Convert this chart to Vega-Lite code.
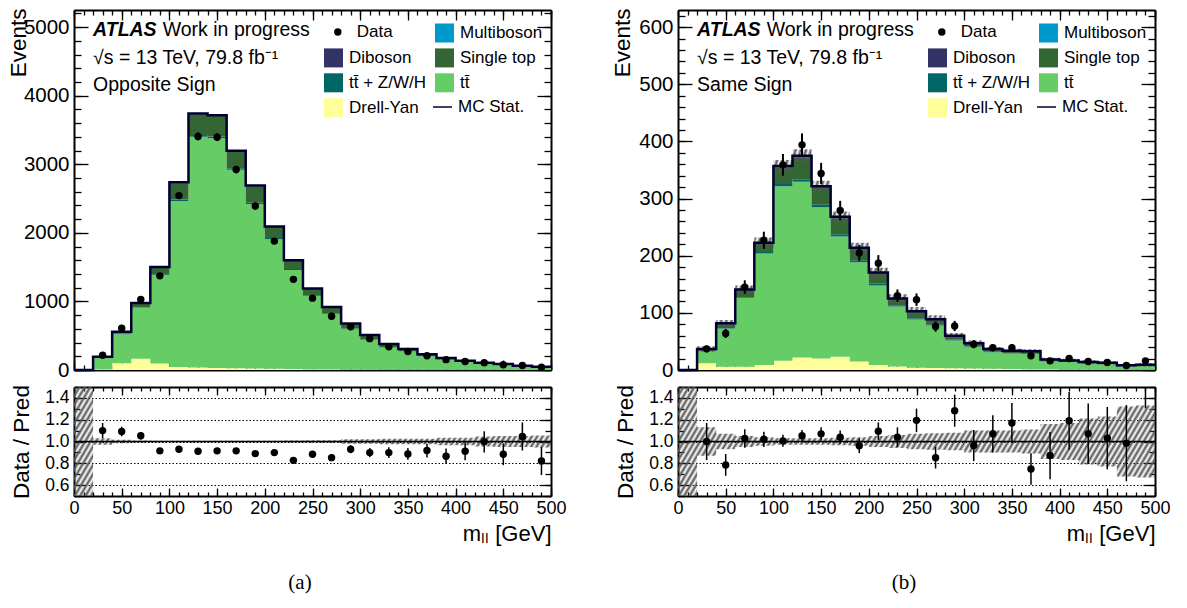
{
"$schema": "https://vega.github.io/schema/vega-lite/v6.json",
"background": "white",
"padding": {"left": 7, "top": 8, "right": 5, "bottom": 5},
"config": {
 "font": "Liberation Sans",
 "view": {"stroke": null},
 "axis": {"labelFont": "Liberation Sans", "titleFont": "Liberation Sans", "labelColor": "black", "titleColor": "black", "tickColor": "black", "domainColor": "black", "tickWidth": 1.3, "domainWidth": 2, "labelFlush": false, "labelOverlap": false, "grid": false, "titleFontWeight": "normal"},
 "legend": {"columnPadding": 8, "rowPadding": 4.9, "labelFont": "Liberation Sans", "labelFontSize": 17, "labelColor": "black", "labelOffset": 5, "symbolSize": 361, "symbolStrokeWidth": 1.5, "padding": 0, "labelLimit": 300},
 "title": {"font": "Liberation Serif", "fontSize": 21, "fontWeight": "normal", "color": "black"}
},
"datasets": {
 "os_e": [
  {"x":0,"s1_dy":0,"s2_tt":0,"s3_ttv":0,"s4_st":0,"s5_vv":0,"s6_vvv":0,"tot":0,"blo":0.5,"bhi":1.5},
  {"x":20,"s1_dy":10,"s2_tt":172,"s3_ttv":2,"s4_st":8,"s5_vv":3,"s6_vvv":0,"tot":195,"blo":0.97,"bhi":1.03},
  {"x":40,"s1_dy":98,"s2_tt":425,"s3_ttv":4,"s4_st":25,"s5_vv":5,"s6_vvv":0,"tot":557,"blo":0.985,"bhi":1.015},
  {"x":60,"s1_dy":165,"s2_tt":742,"s3_ttv":8,"s4_st":55,"s5_vv":8,"s6_vvv":0,"tot":978,"blo":0.99,"bhi":1.01},
  {"x":80,"s1_dy":95,"s2_tt":1290,"s3_ttv":12,"s4_st":95,"s5_vv":10,"s6_vvv":0,"tot":1502,"blo":0.994,"bhi":1.006},
  {"x":100,"s1_dy":45,"s2_tt":2420,"s3_ttv":20,"s4_st":240,"s5_vv":12,"s6_vvv":0,"tot":2737,"blo":0.994,"bhi":1.006},
  {"x":120,"s1_dy":35,"s2_tt":3368,"s3_ttv":25,"s4_st":300,"s5_vv":12,"s6_vvv":0,"tot":3740,"blo":0.994,"bhi":1.006},
  {"x":140,"s1_dy":30,"s2_tt":3349,"s3_ttv":25,"s4_st":300,"s5_vv":12,"s6_vvv":0,"tot":3716,"blo":0.994,"bhi":1.006},
  {"x":160,"s1_dy":25,"s2_tt":2896,"s3_ttv":22,"s4_st":245,"s5_vv":10,"s6_vvv":0,"tot":3198,"blo":0.994,"bhi":1.006},
  {"x":180,"s1_dy":22,"s2_tt":2398,"s3_ttv":20,"s4_st":240,"s5_vv":9,"s6_vvv":0,"tot":2689,"blo":0.994,"bhi":1.006},
  {"x":200,"s1_dy":18,"s2_tt":1889,"s3_ttv":18,"s4_st":160,"s5_vv":8,"s6_vvv":0,"tot":2093,"blo":0.992,"bhi":1.008},
  {"x":220,"s1_dy":15,"s2_tt":1442,"s3_ttv":15,"s4_st":120,"s5_vv":7,"s6_vvv":0,"tot":1599,"blo":0.99,"bhi":1.01},
  {"x":240,"s1_dy":12,"s2_tt":1069,"s3_ttv":12,"s4_st":88,"s5_vv":6,"s6_vvv":0,"tot":1187,"blo":0.988,"bhi":1.012},
  {"x":260,"s1_dy":10,"s2_tt":810,"s3_ttv":10,"s4_st":85,"s5_vv":5,"s6_vvv":0,"tot":920,"blo":0.988,"bhi":1.012},
  {"x":280,"s1_dy":8,"s2_tt":588,"s3_ttv":8,"s4_st":70,"s5_vv":4,"s6_vvv":0,"tot":678,"blo":0.98,"bhi":1.02},
  {"x":300,"s1_dy":6,"s2_tt":433,"s3_ttv":7,"s4_st":60,"s5_vv":3,"s6_vvv":0,"tot":509,"blo":0.98,"bhi":1.02},
  {"x":320,"s1_dy":5,"s2_tt":324,"s3_ttv":6,"s4_st":40,"s5_vv":3,"s6_vvv":0,"tot":378,"blo":0.975,"bhi":1.025},
  {"x":340,"s1_dy":4,"s2_tt":264,"s3_ttv":5,"s4_st":30,"s5_vv":2,"s6_vvv":0,"tot":305,"blo":0.975,"bhi":1.025},
  {"x":360,"s1_dy":3,"s2_tt":197,"s3_ttv":4,"s4_st":22,"s5_vv":2,"s6_vvv":0,"tot":228,"blo":0.975,"bhi":1.025},
  {"x":380,"s1_dy":3,"s2_tt":148,"s3_ttv":3,"s4_st":18,"s5_vv":2,"s6_vvv":0,"tot":174,"blo":0.965,"bhi":1.035},
  {"x":400,"s1_dy":2,"s2_tt":116,"s3_ttv":3,"s4_st":14,"s5_vv":1,"s6_vvv":0,"tot":136,"blo":0.965,"bhi":1.035},
  {"x":420,"s1_dy":2,"s2_tt":89,"s3_ttv":2,"s4_st":12,"s5_vv":1,"s6_vvv":0,"tot":106,"blo":0.955,"bhi":1.045},
  {"x":440,"s1_dy":2,"s2_tt":72,"s3_ttv":2,"s4_st":10,"s5_vv":1,"s6_vvv":0,"tot":87,"blo":0.95,"bhi":1.05},
  {"x":460,"s1_dy":1,"s2_tt":52,"s3_ttv":2,"s4_st":7,"s5_vv":1,"s6_vvv":0,"tot":63,"blo":0.95,"bhi":1.05},
  {"x":480,"s1_dy":1,"s2_tt":39,"s3_ttv":1,"s4_st":6,"s5_vv":1,"s6_vvv":0,"tot":48,"blo":0.945,"bhi":1.055},
  {"x":500,"s1_dy":1,"s2_tt":39,"s3_ttv":1,"s4_st":6,"s5_vv":1,"s6_vvv":0,"tot":48,"blo":0.945,"bhi":1.055}
 ],
 "os_b": [
  {"c":30,"d":215,"dlo":200,"dhi":230,"r":1.1,"rlo":1.03,"rhi":1.17},
  {"c":50,"d":608,"dlo":583,"dhi":633,"r":1.092,"rlo":1.048,"rhi":1.136},
  {"c":70,"d":1029,"dlo":997,"dhi":1061,"r":1.052,"rlo":1.019,"rhi":1.085},
  {"c":90,"d":1373,"dlo":1336,"dhi":1410,"r":0.914,"rlo":0.889,"rhi":0.939},
  {"c":110,"d":2543,"dlo":2493,"dhi":2593,"r":0.929,"rlo":0.911,"rhi":0.947},
  {"c":130,"d":3407,"dlo":3349,"dhi":3465,"r":0.911,"rlo":0.895,"rhi":0.927},
  {"c":150,"d":3396,"dlo":3338,"dhi":3454,"r":0.914,"rlo":0.898,"rhi":0.93},
  {"c":170,"d":2923,"dlo":2869,"dhi":2977,"r":0.914,"rlo":0.897,"rhi":0.931},
  {"c":190,"d":2391,"dlo":2342,"dhi":2440,"r":0.889,"rlo":0.871,"rhi":0.907},
  {"c":210,"d":1880,"dlo":1837,"dhi":1923,"r":0.898,"rlo":0.877,"rhi":0.919},
  {"c":230,"d":1322,"dlo":1286,"dhi":1358,"r":0.827,"rlo":0.804,"rhi":0.85},
  {"c":250,"d":1048,"dlo":1016,"dhi":1080,"r":0.883,"rlo":0.856,"rhi":0.91},
  {"c":270,"d":784,"dlo":756,"dhi":812,"r":0.852,"rlo":0.822,"rhi":0.882},
  {"c":290,"d":630,"dlo":605,"dhi":655,"r":0.929,"rlo":0.892,"rhi":0.966},
  {"c":310,"d":457,"dlo":436,"dhi":478,"r":0.898,"rlo":0.856,"rhi":0.94},
  {"c":330,"d":339,"dlo":321,"dhi":357,"r":0.898,"rlo":0.849,"rhi":0.947},
  {"c":350,"d":270,"dlo":254,"dhi":286,"r":0.886,"rlo":0.832,"rhi":0.94},
  {"c":370,"d":209,"dlo":195,"dhi":223,"r":0.917,"rlo":0.854,"rhi":0.98},
  {"c":390,"d":151,"dlo":139,"dhi":163,"r":0.865,"rlo":0.794,"rhi":0.936},
  {"c":410,"d":124,"dlo":113,"dhi":135,"r":0.911,"rlo":0.829,"rhi":0.993},
  {"c":430,"d":106,"dlo":96,"dhi":116,"r":0.997,"rlo":0.9,"rhi":1.094},
  {"c":450,"d":77,"dlo":68,"dhi":86,"r":0.883,"rlo":0.783,"rhi":0.983},
  {"c":470,"d":66,"dlo":58,"dhi":74,"r":1.046,"rlo":0.917,"rhi":1.175},
  {"c":490,"d":39,"dlo":33,"dhi":45,"r":0.822,"rlo":0.692,"rhi":0.952}
 ],
 "ss_e": [
  {"x":0,"s1_dy":0,"s2_tt":0,"s3_ttv":0,"s4_st":0,"s5_vv":0,"s6_vvv":0,"tot":0,"blo":0.5,"bhi":1.5,"mlo":null,"mhi":null},
  {"x":20,"s1_dy":11.7,"s2_tt":21.4,"s3_ttv":0.5,"s4_st":2,"s5_vv":1,"s6_vvv":0,"tot":36.6,"blo":0.87,"bhi":1.13,"mlo":31.8,"mhi":41.4},
  {"x":40,"s1_dy":5.8,"s2_tt":66.2,"s3_ttv":1,"s4_st":7.5,"s5_vv":1.5,"s6_vvv":0,"tot":82,"blo":0.93,"bhi":1.07,"mlo":76.3,"mhi":87.7},
  {"x":60,"s1_dy":5.8,"s2_tt":120.6,"s3_ttv":1.5,"s4_st":11.6,"s5_vv":1.5,"s6_vvv":0,"tot":141,"blo":0.95,"bhi":1.05,"mlo":134,"mhi":148},
  {"x":80,"s1_dy":8.7,"s2_tt":195.1,"s3_ttv":2.5,"s4_st":14.5,"s5_vv":2,"s6_vvv":0,"tot":222.8,"blo":0.96,"bhi":1.04,"mlo":213.9,"mhi":231.7},
  {"x":100,"s1_dy":16,"s2_tt":305.5,"s3_ttv":4,"s4_st":29,"s5_vv":2.5,"s6_vvv":0,"tot":357,"blo":0.97,"bhi":1.03,"mlo":346.3,"mhi":367.7},
  {"x":120,"s1_dy":22,"s2_tt":307.5,"s3_ttv":4.5,"s4_st":38,"s5_vv":3,"s6_vvv":0,"tot":375,"blo":0.97,"bhi":1.03,"mlo":363.8,"mhi":386.3},
  {"x":140,"s1_dy":20,"s2_tt":264.6,"s3_ttv":4.5,"s4_st":30,"s5_vv":2.5,"s6_vvv":0,"tot":321.6,"blo":0.97,"bhi":1.03,"mlo":312,"mhi":331.2},
  {"x":160,"s1_dy":23,"s2_tt":210.5,"s3_ttv":4,"s4_st":28,"s5_vv":2.5,"s6_vvv":0,"tot":268,"blo":0.965,"bhi":1.035,"mlo":258.6,"mhi":277.4},
  {"x":180,"s1_dy":15,"s2_tt":173.5,"s3_ttv":3.5,"s4_st":20,"s5_vv":2,"s6_vvv":0,"tot":214,"blo":0.96,"bhi":1.04,"mlo":205.4,"mhi":222.6},
  {"x":200,"s1_dy":8.7,"s2_tt":139.3,"s3_ttv":3,"s4_st":17.5,"s5_vv":2,"s6_vvv":0,"tot":170.5,"blo":0.95,"bhi":1.05,"mlo":162,"mhi":179},
  {"x":220,"s1_dy":6,"s2_tt":105,"s3_ttv":2.5,"s4_st":10,"s5_vv":1.5,"s6_vvv":0,"tot":125,"blo":0.94,"bhi":1.06,"mlo":117.5,"mhi":132.5},
  {"x":240,"s1_dy":4,"s2_tt":84.5,"s3_ttv":2,"s4_st":11,"s5_vv":1.5,"s6_vvv":0,"tot":103,"blo":0.93,"bhi":1.07,"mlo":95.8,"mhi":110.2},
  {"x":260,"s1_dy":3.5,"s2_tt":74.5,"s3_ttv":2,"s4_st":8,"s5_vv":1,"s6_vvv":0,"tot":89,"blo":0.925,"bhi":1.075,"mlo":82.3,"mhi":95.7},
  {"x":280,"s1_dy":3,"s2_tt":48.5,"s3_ttv":1.5,"s4_st":6,"s5_vv":1,"s6_vvv":0,"tot":60,"blo":0.92,"bhi":1.08,"mlo":55.2,"mhi":64.8},
  {"x":300,"s1_dy":2.5,"s2_tt":37.5,"s3_ttv":1.2,"s4_st":5,"s5_vv":0.8,"s6_vvv":0,"tot":47,"blo":0.9,"bhi":1.1,"mlo":42.3,"mhi":51.7},
  {"x":320,"s1_dy":2,"s2_tt":29,"s3_ttv":1,"s4_st":4,"s5_vv":0.6,"s6_vvv":0,"tot":36.6,"blo":0.9,"bhi":1.1,"mlo":32.9,"mhi":40.3},
  {"x":340,"s1_dy":1.8,"s2_tt":26.9,"s3_ttv":1,"s4_st":3.5,"s5_vv":0.5,"s6_vvv":0,"tot":33.7,"blo":0.9,"bhi":1.1,"mlo":30.3,"mhi":37.1},
  {"x":360,"s1_dy":1.5,"s2_tt":26.3,"s3_ttv":0.8,"s4_st":3.5,"s5_vv":0.5,"s6_vvv":0,"tot":32.6,"blo":0.89,"bhi":1.11,"mlo":29,"mhi":36.2},
  {"x":380,"s1_dy":1.2,"s2_tt":14.2,"s3_ttv":0.6,"s4_st":2,"s5_vv":0.4,"s6_vvv":0,"tot":18.4,"blo":0.84,"bhi":1.16,"mlo":15.5,"mhi":21.3},
  {"x":400,"s1_dy":1,"s2_tt":13,"s3_ttv":0.5,"s4_st":2,"s5_vv":0.3,"s6_vvv":0,"tot":16.8,"blo":0.83,"bhi":1.17,"mlo":13.9,"mhi":19.7},
  {"x":420,"s1_dy":0.8,"s2_tt":10.9,"s3_ttv":0.5,"s4_st":1.5,"s5_vv":0.3,"s6_vvv":0,"tot":14,"blo":0.79,"bhi":1.21,"mlo":11.1,"mhi":16.9},
  {"x":440,"s1_dy":0.7,"s2_tt":9.7,"s3_ttv":0.4,"s4_st":1.5,"s5_vv":0.3,"s6_vvv":0,"tot":12.6,"blo":0.77,"bhi":1.23,"mlo":9.7,"mhi":15.5},
  {"x":460,"s1_dy":0.5,"s2_tt":6.1,"s3_ttv":0.3,"s4_st":1,"s5_vv":0.2,"s6_vvv":0,"tot":8.1,"blo":0.68,"bhi":1.32,"mlo":5.5,"mhi":10.7},
  {"x":480,"s1_dy":0.5,"s2_tt":7.2,"s3_ttv":0.3,"s4_st":1,"s5_vv":0.2,"s6_vvv":0,"tot":9.2,"blo":0.67,"bhi":1.33,"mlo":6.2,"mhi":12.2},
  {"x":500,"s1_dy":0.5,"s2_tt":7.2,"s3_ttv":0.3,"s4_st":1,"s5_vv":0.2,"s6_vvv":0,"tot":9.2,"blo":0.67,"bhi":1.33,"mlo":6.2,"mhi":12.2}
 ],
 "ss_b": [
  {"c":30,"d":37,"dlo":30.9,"dhi":43.1,"r":1.0,"rlo":0.83,"rhi":1.17},
  {"c":50,"d":64,"dlo":56,"dhi":72,"r":0.785,"rlo":0.685,"rhi":0.885},
  {"c":70,"d":145,"dlo":133,"dhi":157,"r":1.028,"rlo":0.943,"rhi":1.113},
  {"c":90,"d":227,"dlo":212,"dhi":242,"r":1.02,"rlo":0.95,"rhi":1.09},
  {"c":110,"d":359,"dlo":340,"dhi":378,"r":1.006,"rlo":0.951,"rhi":1.061},
  {"c":130,"d":394,"dlo":374,"dhi":414,"r":1.052,"rlo":0.998,"rhi":1.106},
  {"c":150,"d":344,"dlo":325.5,"dhi":362.5,"r":1.07,"rlo":1.01,"rhi":1.13},
  {"c":170,"d":279,"dlo":262,"dhi":296,"r":1.04,"rlo":0.98,"rhi":1.1},
  {"c":190,"d":205,"dlo":191,"dhi":219,"r":0.96,"rlo":0.893,"rhi":1.027},
  {"c":210,"d":187,"dlo":173,"dhi":201,"r":1.095,"rlo":1.015,"rhi":1.175},
  {"c":230,"d":130,"dlo":119,"dhi":141,"r":1.04,"rlo":0.95,"rhi":1.13},
  {"c":250,"d":123,"dlo":112,"dhi":134,"r":1.194,"rlo":1.086,"rhi":1.302},
  {"c":270,"d":76,"dlo":67,"dhi":85,"r":0.852,"rlo":0.752,"rhi":0.952},
  {"c":290,"d":77,"dlo":68,"dhi":86,"r":1.283,"rlo":1.136,"rhi":1.43},
  {"c":310,"d":45,"dlo":38,"dhi":52,"r":0.963,"rlo":0.82,"rhi":1.106},
  {"c":330,"d":39,"dlo":33,"dhi":45,"r":1.071,"rlo":0.9,"rhi":1.24},
  {"c":350,"d":39,"dlo":33,"dhi":45,"r":1.169,"rlo":0.984,"rhi":1.354},
  {"c":370,"d":25,"dlo":20,"dhi":30,"r":0.748,"rlo":0.603,"rhi":0.893},
  {"c":390,"d":16,"dlo":12,"dhi":20,"r":0.871,"rlo":0.654,"rhi":1.088},
  {"c":410,"d":20,"dlo":15.5,"dhi":24.5,"r":1.19,"rlo":0.925,"rhi":1.455},
  {"c":430,"d":15,"dlo":11.1,"dhi":18.9,"r":1.071,"rlo":0.794,"rhi":1.348},
  {"c":450,"d":13,"dlo":9.4,"dhi":16.6,"r":1.031,"rlo":0.745,"rhi":1.317},
  {"c":470,"d":8,"dlo":5.2,"dhi":10.8,"r":0.985,"rlo":0.635,"rhi":1.335},
  {"c":490,"d":16,"dlo":12,"dhi":20,"r":1.74,"rlo":1.305,"rhi":2.175}
 ]
},
"spacing": 44,
"resolve": {"scale": {"color": "independent", "fill": "independent", "stroke": "independent", "shape": "independent", "size": "independent"}},
"hconcat": [
 {
  "title": {"text": "(a)", "orient": "bottom", "anchor": "middle", "offset": 28, "dx": 13.5},
  "spacing": 17,
  "bounds": "flush",
  "resolve": {"scale": {"color": "independent", "fill": "independent", "stroke": "independent", "shape": "independent", "size": "independent"}},
  "vconcat": [
   {
    "width": 477, "height": 360,
    "resolve": {"axis": {"x": "independent", "y": "independent"}},
    "layer": [
     {
      "data": {"name": "os_e"},
      "transform": [{"fold": ["s1_dy", "s2_tt", "s3_ttv", "s4_st", "s5_vv", "s6_vvv"], "as": ["proc", "n"]}],
      "mark": {"type": "area", "interpolate": "step-after", "opacity": 1},
      "encoding": {
       "x": {"field": "x", "type": "quantitative", "scale": {"domain": [0, 500], "nice": false}, "axis": {"orient": "bottom", "values": [0,50,100,150,200,250,300,350,400,450,500], "labels": false, "tickSize": -10, "title": null}},
       "y": {"field": "n", "type": "quantitative", "stack": "zero", "scale": {"domain": [0, 5250], "nice": false}, "axis": {"orient": "left", "values": [0,1000,2000,3000,4000,5000], "format": "d", "labelFontSize": 20.5, "labelPadding": 19, "tickSize": -14, "title": "Events", "titleFontSize": 22.5, "titleAnchor": "end", "titleAlign": "right", "titleAngle": 270, "titleBaseline": "alphabetic", "titleX": -49, "titleY": -2}},
       "fill": {"field": "proc", "type": "nominal", "scale": {"domain": ["data","s6_vvv","s5_vv","s4_st","s3_ttv","s2_tt","s1_dy","mcs"], "range": ["transparent","#0099cc","#333366","#336633","#006666","#66cc66","#ffff99","transparent"]},
        "legend": {"title": null, "orient": "none", "legendX": 249, "legendY": 12.5, "columns": 2, "direction": "horizontal", "symbolType": "square",
         "labelExpr": "datum.value=='data'?'':datum.value=='s6_vvv'?'Multiboson':datum.value=='s5_vv'?'Diboson':datum.value=='s4_st'?'Single top':datum.value=='s3_ttv'?'tt\u0304 + Z/W/H':datum.value=='s2_tt'?'tt\u0304':datum.value=='s1_dy'?'Drell-Yan':''"}},
       "order": {"field": "proc", "type": "ordinal", "sort": "ascending"}
      }
     },
     {
      "data": {"name": "os_e"},
      "mark": {"type": "line", "interpolate": "step-after", "color": "#000033", "strokeWidth": 2.5},
      "encoding": {
       "x": {"field": "x", "type": "quantitative", "axis": {"orient": "bottom", "values": [0,10,20,30,40,50,60,70,80,90,100,110,120,130,140,150,160,170,180,190,200,210,220,230,240,250,260,270,280,290,300,310,320,330,340,350,360,370,380,390,400,410,420,430,440,450,460,470,480,490,500], "labels": false, "domain": false, "tickSize": -5, "title": null}},
       "y": {"field": "tot", "type": "quantitative", "axis": {"orient": "left", "values": [0,200,400,600,800,1000,1200,1400,1600,1800,2000,2200,2400,2600,2800,3000,3200,3400,3600,3800,4000,4200,4400,4600,4800,5000,5200], "labels": false, "domain": false, "tickSize": -7, "title": null}},
       "stroke": {"datum": "MC Stat.", "type": "nominal", "scale": {"domain": ["MC Stat."], "range": ["#000033"]}, "legend": {"title": null, "orient": "none", "legendX": 358, "legendY": 86.5, "symbolType": "stroke"}}
      }
     },
     {
      "data": {"name": "os_b"},
      "mark": {"type": "rule", "color": "black", "strokeWidth": 2},
      "encoding": {
       "x": {"field": "c", "type": "quantitative", "axis": {"orient": "top", "values": [0,50,100,150,200,250,300,350,400,450,500], "labels": false, "tickSize": -10, "title": null}},
       "y": {"field": "dlo", "type": "quantitative", "axis": {"orient": "right", "values": [0,1000,2000,3000,4000,5000], "labels": false, "tickSize": -14, "title": null}},
       "y2": {"field": "dhi"}
      }
     },
     {
      "data": {"name": "os_b"},
      "mark": {"type": "circle", "color": "black", "opacity": 1},
      "encoding": {
       "x": {"field": "c", "type": "quantitative", "axis": {"orient": "top", "values": [0,10,20,30,40,50,60,70,80,90,100,110,120,130,140,150,160,170,180,190,200,210,220,230,240,250,260,270,280,290,300,310,320,330,340,350,360,370,380,390,400,410,420,430,440,450,460,470,480,490,500], "labels": false, "domain": false, "tickSize": -5, "title": null}},
       "y": {"field": "d", "type": "quantitative", "axis": {"orient": "right", "values": [0,200,400,600,800,1000,1200,1400,1600,1800,2000,2200,2400,2600,2800,3000,3200,3400,3600,3800,4000,4200,4400,4600,4800,5000,5200], "labels": false, "domain": false, "tickSize": -7, "title": null}},
       "size": {"datum": "Data", "type": "nominal", "scale": {"type": "point", "domain": ["Data"], "range": [55, 55]}, "legend": {"title": null, "orient": "none", "legendX": 255.3, "legendY": 13.5, "labelOffset": 10.5, "symbolType": "circle"}}
      }
     },
     {
      "data": {"values": [{}]},
      "mark": {"type": "text", "text": "ATLAS", "fontSize": 19.5, "fontStyle": "italic", "fontWeight": "bold", "align": "left", "baseline": "alphabetic", "color": "black"},
      "encoding": {"x": {"datum": 20, "type": "quantitative", "axis": null}, "y": {"datum": 4871, "type": "quantitative", "axis": null}}
     },
     {
      "data": {"values": [{}]},
      "mark": {"type": "text", "text": "Work in progress", "fontSize": 19.5, "align": "left", "baseline": "alphabetic", "color": "black"},
      "encoding": {"x": {"datum": 93, "type": "quantitative", "axis": null}, "y": {"datum": 4871, "type": "quantitative", "axis": null}}
     },
     {
      "data": {"values": [{}]},
      "mark": {"type": "text", "text": "\u221As = 13 TeV, 79.8 fb\u207B\u00B9", "fontSize": 19.5, "align": "left", "baseline": "alphabetic", "color": "black"},
      "encoding": {"x": {"datum": 20, "type": "quantitative", "axis": null}, "y": {"datum": 4463, "type": "quantitative", "axis": null}}
     },
     {
      "data": {"values": [{}]},
      "mark": {"type": "text", "text": "Opposite Sign", "fontSize": 19.5, "align": "left", "baseline": "alphabetic", "color": "black"},
      "encoding": {"x": {"datum": 20, "type": "quantitative", "axis": null}, "y": {"datum": 4069, "type": "quantitative", "axis": null}}
     }
    ]
   },
   {
    "width": 477, "height": 109,
    "resolve": {"axis": {"x": "independent", "y": "independent"}},
    "layer": [
     {
      "data": {"name": "os_e"},
      "mark": {"type": "area", "interpolate": "step-after", "clip": true, "opacity": 1, "fill": {"gradient": "linear", "x1": 0, "y1": 0, "x2": 1.114, "y2": 0.15, "stops": [
{"offset":0,"color":"#555"},{"offset":0.005,"color":"rgba(85,85,85,0)"},{"offset":0.01,"color":"#555"},{"offset":0.015,"color":"rgba(85,85,85,0)"},{"offset":0.02,"color":"#555"},{"offset":0.025,"color":"rgba(85,85,85,0)"},{"offset":0.03,"color":"#555"},{"offset":0.035,"color":"rgba(85,85,85,0)"},{"offset":0.04,"color":"#555"},{"offset":0.045,"color":"rgba(85,85,85,0)"},
{"offset":0.05,"color":"#555"},{"offset":0.055,"color":"rgba(85,85,85,0)"},{"offset":0.06,"color":"#555"},{"offset":0.065,"color":"rgba(85,85,85,0)"},{"offset":0.07,"color":"#555"},{"offset":0.075,"color":"rgba(85,85,85,0)"},{"offset":0.08,"color":"#555"},{"offset":0.085,"color":"rgba(85,85,85,0)"},{"offset":0.09,"color":"#555"},{"offset":0.095,"color":"rgba(85,85,85,0)"},
{"offset":0.1,"color":"#555"},{"offset":0.105,"color":"rgba(85,85,85,0)"},{"offset":0.11,"color":"#555"},{"offset":0.115,"color":"rgba(85,85,85,0)"},{"offset":0.12,"color":"#555"},{"offset":0.125,"color":"rgba(85,85,85,0)"},{"offset":0.13,"color":"#555"},{"offset":0.135,"color":"rgba(85,85,85,0)"},{"offset":0.14,"color":"#555"},{"offset":0.145,"color":"rgba(85,85,85,0)"},
{"offset":0.15,"color":"#555"},{"offset":0.155,"color":"rgba(85,85,85,0)"},{"offset":0.16,"color":"#555"},{"offset":0.165,"color":"rgba(85,85,85,0)"},{"offset":0.17,"color":"#555"},{"offset":0.175,"color":"rgba(85,85,85,0)"},{"offset":0.18,"color":"#555"},{"offset":0.185,"color":"rgba(85,85,85,0)"},{"offset":0.19,"color":"#555"},{"offset":0.195,"color":"rgba(85,85,85,0)"},
{"offset":0.2,"color":"#555"},{"offset":0.205,"color":"rgba(85,85,85,0)"},{"offset":0.21,"color":"#555"},{"offset":0.215,"color":"rgba(85,85,85,0)"},{"offset":0.22,"color":"#555"},{"offset":0.225,"color":"rgba(85,85,85,0)"},{"offset":0.23,"color":"#555"},{"offset":0.235,"color":"rgba(85,85,85,0)"},{"offset":0.24,"color":"#555"},{"offset":0.245,"color":"rgba(85,85,85,0)"},
{"offset":0.25,"color":"#555"},{"offset":0.255,"color":"rgba(85,85,85,0)"},{"offset":0.26,"color":"#555"},{"offset":0.265,"color":"rgba(85,85,85,0)"},{"offset":0.27,"color":"#555"},{"offset":0.275,"color":"rgba(85,85,85,0)"},{"offset":0.28,"color":"#555"},{"offset":0.285,"color":"rgba(85,85,85,0)"},{"offset":0.29,"color":"#555"},{"offset":0.295,"color":"rgba(85,85,85,0)"},
{"offset":0.3,"color":"#555"},{"offset":0.305,"color":"rgba(85,85,85,0)"},{"offset":0.31,"color":"#555"},{"offset":0.315,"color":"rgba(85,85,85,0)"},{"offset":0.32,"color":"#555"},{"offset":0.325,"color":"rgba(85,85,85,0)"},{"offset":0.33,"color":"#555"},{"offset":0.335,"color":"rgba(85,85,85,0)"},{"offset":0.34,"color":"#555"},{"offset":0.345,"color":"rgba(85,85,85,0)"},
{"offset":0.35,"color":"#555"},{"offset":0.355,"color":"rgba(85,85,85,0)"},{"offset":0.36,"color":"#555"},{"offset":0.365,"color":"rgba(85,85,85,0)"},{"offset":0.37,"color":"#555"},{"offset":0.375,"color":"rgba(85,85,85,0)"},{"offset":0.38,"color":"#555"},{"offset":0.385,"color":"rgba(85,85,85,0)"},{"offset":0.39,"color":"#555"},{"offset":0.395,"color":"rgba(85,85,85,0)"},
{"offset":0.4,"color":"#555"},{"offset":0.405,"color":"rgba(85,85,85,0)"},{"offset":0.41,"color":"#555"},{"offset":0.415,"color":"rgba(85,85,85,0)"},{"offset":0.42,"color":"#555"},{"offset":0.425,"color":"rgba(85,85,85,0)"},{"offset":0.43,"color":"#555"},{"offset":0.435,"color":"rgba(85,85,85,0)"},{"offset":0.44,"color":"#555"},{"offset":0.445,"color":"rgba(85,85,85,0)"},
{"offset":0.45,"color":"#555"},{"offset":0.455,"color":"rgba(85,85,85,0)"},{"offset":0.46,"color":"#555"},{"offset":0.465,"color":"rgba(85,85,85,0)"},{"offset":0.47,"color":"#555"},{"offset":0.475,"color":"rgba(85,85,85,0)"},{"offset":0.48,"color":"#555"},{"offset":0.485,"color":"rgba(85,85,85,0)"},{"offset":0.49,"color":"#555"},{"offset":0.495,"color":"rgba(85,85,85,0)"},
{"offset":0.5,"color":"#555"},{"offset":0.505,"color":"rgba(85,85,85,0)"},{"offset":0.51,"color":"#555"},{"offset":0.515,"color":"rgba(85,85,85,0)"},{"offset":0.52,"color":"#555"},{"offset":0.525,"color":"rgba(85,85,85,0)"},{"offset":0.53,"color":"#555"},{"offset":0.535,"color":"rgba(85,85,85,0)"},{"offset":0.54,"color":"#555"},{"offset":0.545,"color":"rgba(85,85,85,0)"},
{"offset":0.55,"color":"#555"},{"offset":0.555,"color":"rgba(85,85,85,0)"},{"offset":0.56,"color":"#555"},{"offset":0.565,"color":"rgba(85,85,85,0)"},{"offset":0.57,"color":"#555"},{"offset":0.575,"color":"rgba(85,85,85,0)"},{"offset":0.58,"color":"#555"},{"offset":0.585,"color":"rgba(85,85,85,0)"},{"offset":0.59,"color":"#555"},{"offset":0.595,"color":"rgba(85,85,85,0)"},
{"offset":0.6,"color":"#555"},{"offset":0.605,"color":"rgba(85,85,85,0)"},{"offset":0.61,"color":"#555"},{"offset":0.615,"color":"rgba(85,85,85,0)"},{"offset":0.62,"color":"#555"},{"offset":0.625,"color":"rgba(85,85,85,0)"},{"offset":0.63,"color":"#555"},{"offset":0.635,"color":"rgba(85,85,85,0)"},{"offset":0.64,"color":"#555"},{"offset":0.645,"color":"rgba(85,85,85,0)"},
{"offset":0.65,"color":"#555"},{"offset":0.655,"color":"rgba(85,85,85,0)"},{"offset":0.66,"color":"#555"},{"offset":0.665,"color":"rgba(85,85,85,0)"},{"offset":0.67,"color":"#555"},{"offset":0.675,"color":"rgba(85,85,85,0)"},{"offset":0.68,"color":"#555"},{"offset":0.685,"color":"rgba(85,85,85,0)"},{"offset":0.69,"color":"#555"},{"offset":0.695,"color":"rgba(85,85,85,0)"},
{"offset":0.7,"color":"#555"},{"offset":0.705,"color":"rgba(85,85,85,0)"},{"offset":0.71,"color":"#555"},{"offset":0.715,"color":"rgba(85,85,85,0)"},{"offset":0.72,"color":"#555"},{"offset":0.725,"color":"rgba(85,85,85,0)"},{"offset":0.73,"color":"#555"},{"offset":0.735,"color":"rgba(85,85,85,0)"},{"offset":0.74,"color":"#555"},{"offset":0.745,"color":"rgba(85,85,85,0)"},
{"offset":0.75,"color":"#555"},{"offset":0.755,"color":"rgba(85,85,85,0)"},{"offset":0.76,"color":"#555"},{"offset":0.765,"color":"rgba(85,85,85,0)"},{"offset":0.77,"color":"#555"},{"offset":0.775,"color":"rgba(85,85,85,0)"},{"offset":0.78,"color":"#555"},{"offset":0.785,"color":"rgba(85,85,85,0)"},{"offset":0.79,"color":"#555"},{"offset":0.795,"color":"rgba(85,85,85,0)"},
{"offset":0.8,"color":"#555"},{"offset":0.805,"color":"rgba(85,85,85,0)"},{"offset":0.81,"color":"#555"},{"offset":0.815,"color":"rgba(85,85,85,0)"},{"offset":0.82,"color":"#555"},{"offset":0.825,"color":"rgba(85,85,85,0)"},{"offset":0.83,"color":"#555"},{"offset":0.835,"color":"rgba(85,85,85,0)"},{"offset":0.84,"color":"#555"},{"offset":0.845,"color":"rgba(85,85,85,0)"},
{"offset":0.85,"color":"#555"},{"offset":0.855,"color":"rgba(85,85,85,0)"},{"offset":0.86,"color":"#555"},{"offset":0.865,"color":"rgba(85,85,85,0)"},{"offset":0.87,"color":"#555"},{"offset":0.875,"color":"rgba(85,85,85,0)"},{"offset":0.88,"color":"#555"},{"offset":0.885,"color":"rgba(85,85,85,0)"},{"offset":0.89,"color":"#555"},{"offset":0.895,"color":"rgba(85,85,85,0)"},
{"offset":0.9,"color":"#555"},{"offset":0.905,"color":"rgba(85,85,85,0)"},{"offset":0.91,"color":"#555"},{"offset":0.915,"color":"rgba(85,85,85,0)"},{"offset":0.92,"color":"#555"},{"offset":0.925,"color":"rgba(85,85,85,0)"},{"offset":0.93,"color":"#555"},{"offset":0.935,"color":"rgba(85,85,85,0)"},{"offset":0.94,"color":"#555"},{"offset":0.945,"color":"rgba(85,85,85,0)"},
{"offset":0.95,"color":"#555"},{"offset":0.955,"color":"rgba(85,85,85,0)"},{"offset":0.96,"color":"#555"},{"offset":0.965,"color":"rgba(85,85,85,0)"},{"offset":0.97,"color":"#555"},{"offset":0.975,"color":"rgba(85,85,85,0)"},{"offset":0.98,"color":"#555"},{"offset":0.985,"color":"rgba(85,85,85,0)"},{"offset":0.99,"color":"#555"},{"offset":0.995,"color":"rgba(85,85,85,0)"},
{"offset":1,"color":"#555"}
      ]}},
      "encoding": {
       "x": {"field": "x", "type": "quantitative", "scale": {"domain": [0, 500], "nice": false}, "axis": {"orient": "bottom", "values": [0,50,100,150,200,250,300,350,400,450,500], "labelFontSize": 18, "labelPadding": 11.5, "tickSize": -8, "title": "m\u2097\u2097 [GeV]", "titleFontSize": 22, "titleAnchor": "end", "titleAlign": "right", "titleBaseline": "alphabetic", "titleX": 477, "titleY": 44}},
       "y": {"field": "blo", "type": "quantitative", "scale": {"domain": [0.5, 1.5], "nice": false, "zero": false}, "axis": {"orient": "left", "values": [0.6,0.8,1,1.2,1.4], "format": ".1f", "labelFontSize": 17.5, "labelPadding": 17, "tickSize": -12, "grid": true, "gridDash": [1.5,2], "gridColor": "black", "gridWidth": 1, "title": "Data / Pred", "titleFontSize": 22.5, "titleAngle": 270, "titleBaseline": "alphabetic", "titleX": -46}},
       "y2": {"field": "bhi"}
      }
     },
     {
      "data": {"name": "os_b"},
      "mark": {"type": "rule", "color": "black", "strokeWidth": 1.5, "clip": true},
      "encoding": {
       "x": {"field": "c", "type": "quantitative", "axis": {"orient": "bottom", "values": [0,10,20,30,40,50,60,70,80,90,100,110,120,130,140,150,160,170,180,190,200,210,220,230,240,250,260,270,280,290,300,310,320,330,340,350,360,370,380,390,400,410,420,430,440,450,460,470,480,490,500], "labels": false, "domain": false, "tickSize": -4, "title": null}},
       "y": {"field": "rlo", "type": "quantitative", "axis": {"orient": "left", "values": [0.5,0.6,0.7,0.8,0.9,1,1.1,1.2,1.3,1.4,1.5], "labels": false, "domain": false, "tickSize": -6, "title": null}},
       "y2": {"field": "rhi"}
      }
     },
     {
      "data": {"name": "os_b"},
      "mark": {"type": "circle", "color": "black", "size": 55, "opacity": 1, "clip": true},
      "encoding": {
       "x": {"field": "c", "type": "quantitative", "axis": {"orient": "top", "values": [0,50,100,150,200,250,300,350,400,450,500], "labels": false, "tickSize": -8, "title": null}},
       "y": {"field": "r", "type": "quantitative", "axis": {"orient": "right", "values": [0.6,0.8,1,1.2,1.4], "labels": false, "tickSize": -12, "title": null}}
      }
     },
     {
      "data": {"values": [{}]},
      "mark": {"type": "rule", "color": "black", "strokeWidth": 1.3},
      "encoding": {
       "x": {"datum": 0, "type": "quantitative", "axis": {"orient": "top", "values": [0,10,20,30,40,50,60,70,80,90,100,110,120,130,140,150,160,170,180,190,200,210,220,230,240,250,260,270,280,290,300,310,320,330,340,350,360,370,380,390,400,410,420,430,440,450,460,470,480,490,500], "labels": false, "domain": false, "tickSize": -4, "title": null}},
       "x2": {"datum": 500},
       "y": {"datum": 1, "type": "quantitative", "axis": {"orient": "right", "values": [0.5,0.6,0.7,0.8,0.9,1,1.1,1.2,1.3,1.4,1.5], "labels": false, "domain": false, "tickSize": -6, "title": null}}
      }
     }
    ]
   }
  ]
 },
 {
  "title": {"text": "(b)", "orient": "bottom", "anchor": "middle", "offset": 28, "dx": 13.5},
  "spacing": 17,
  "bounds": "flush",
  "resolve": {"scale": {"color": "independent", "fill": "independent", "stroke": "independent", "shape": "independent", "size": "independent"}},
  "vconcat": [
   {
    "width": 477, "height": 360,
    "resolve": {"axis": {"x": "independent", "y": "independent"}},
    "layer": [
     {
      "data": {"name": "ss_e"},
      "transform": [{"fold": ["s1_dy", "s2_tt", "s3_ttv", "s4_st", "s5_vv", "s6_vvv"], "as": ["proc", "n"]}],
      "mark": {"type": "area", "interpolate": "step-after", "opacity": 1},
      "encoding": {
       "x": {"field": "x", "type": "quantitative", "scale": {"domain": [0, 500], "nice": false}, "axis": {"orient": "bottom", "values": [0,50,100,150,200,250,300,350,400,450,500], "labels": false, "tickSize": -10, "title": null}},
       "y": {"field": "n", "type": "quantitative", "stack": "zero", "scale": {"domain": [0, 630], "nice": false}, "axis": {"orient": "left", "values": [0,100,200,300,400,500,600], "format": "d", "labelFontSize": 20.5, "labelPadding": 19, "tickSize": -14, "title": "Events", "titleFontSize": 22.5, "titleAnchor": "end", "titleAlign": "right", "titleAngle": 270, "titleBaseline": "alphabetic", "titleX": -49, "titleY": -2}},
       "fill": {"field": "proc", "type": "nominal", "scale": {"domain": ["data","s6_vvv","s5_vv","s4_st","s3_ttv","s2_tt","s1_dy","mcs"], "range": ["transparent","#0099cc","#333366","#336633","#006666","#66cc66","#ffff99","transparent"]},
        "legend": {"title": null, "orient": "none", "legendX": 249, "legendY": 12.5, "columns": 2, "direction": "horizontal", "symbolType": "square",
         "labelExpr": "datum.value=='data'?'':datum.value=='s6_vvv'?'Multiboson':datum.value=='s5_vv'?'Diboson':datum.value=='s4_st'?'Single top':datum.value=='s3_ttv'?'tt\u0304 + Z/W/H':datum.value=='s2_tt'?'tt\u0304':datum.value=='s1_dy'?'Drell-Yan':''"}},
       "order": {"field": "proc", "type": "ordinal", "sort": "ascending"}
      }
     },
     {
      "data": {"name": "ss_e"},
      "mark": {"type": "area", "interpolate": "step-after", "opacity": 1, "fill": {"gradient": "linear", "x1": 0, "y1": 0, "x2": 1.114, "y2": 0.15, "stops": [
{"offset":0,"color":"#555"},{"offset":0.005,"color":"rgba(85,85,85,0)"},{"offset":0.01,"color":"#555"},{"offset":0.015,"color":"rgba(85,85,85,0)"},{"offset":0.02,"color":"#555"},{"offset":0.025,"color":"rgba(85,85,85,0)"},{"offset":0.03,"color":"#555"},{"offset":0.035,"color":"rgba(85,85,85,0)"},{"offset":0.04,"color":"#555"},{"offset":0.045,"color":"rgba(85,85,85,0)"},
{"offset":0.05,"color":"#555"},{"offset":0.055,"color":"rgba(85,85,85,0)"},{"offset":0.06,"color":"#555"},{"offset":0.065,"color":"rgba(85,85,85,0)"},{"offset":0.07,"color":"#555"},{"offset":0.075,"color":"rgba(85,85,85,0)"},{"offset":0.08,"color":"#555"},{"offset":0.085,"color":"rgba(85,85,85,0)"},{"offset":0.09,"color":"#555"},{"offset":0.095,"color":"rgba(85,85,85,0)"},
{"offset":0.1,"color":"#555"},{"offset":0.105,"color":"rgba(85,85,85,0)"},{"offset":0.11,"color":"#555"},{"offset":0.115,"color":"rgba(85,85,85,0)"},{"offset":0.12,"color":"#555"},{"offset":0.125,"color":"rgba(85,85,85,0)"},{"offset":0.13,"color":"#555"},{"offset":0.135,"color":"rgba(85,85,85,0)"},{"offset":0.14,"color":"#555"},{"offset":0.145,"color":"rgba(85,85,85,0)"},
{"offset":0.15,"color":"#555"},{"offset":0.155,"color":"rgba(85,85,85,0)"},{"offset":0.16,"color":"#555"},{"offset":0.165,"color":"rgba(85,85,85,0)"},{"offset":0.17,"color":"#555"},{"offset":0.175,"color":"rgba(85,85,85,0)"},{"offset":0.18,"color":"#555"},{"offset":0.185,"color":"rgba(85,85,85,0)"},{"offset":0.19,"color":"#555"},{"offset":0.195,"color":"rgba(85,85,85,0)"},
{"offset":0.2,"color":"#555"},{"offset":0.205,"color":"rgba(85,85,85,0)"},{"offset":0.21,"color":"#555"},{"offset":0.215,"color":"rgba(85,85,85,0)"},{"offset":0.22,"color":"#555"},{"offset":0.225,"color":"rgba(85,85,85,0)"},{"offset":0.23,"color":"#555"},{"offset":0.235,"color":"rgba(85,85,85,0)"},{"offset":0.24,"color":"#555"},{"offset":0.245,"color":"rgba(85,85,85,0)"},
{"offset":0.25,"color":"#555"},{"offset":0.255,"color":"rgba(85,85,85,0)"},{"offset":0.26,"color":"#555"},{"offset":0.265,"color":"rgba(85,85,85,0)"},{"offset":0.27,"color":"#555"},{"offset":0.275,"color":"rgba(85,85,85,0)"},{"offset":0.28,"color":"#555"},{"offset":0.285,"color":"rgba(85,85,85,0)"},{"offset":0.29,"color":"#555"},{"offset":0.295,"color":"rgba(85,85,85,0)"},
{"offset":0.3,"color":"#555"},{"offset":0.305,"color":"rgba(85,85,85,0)"},{"offset":0.31,"color":"#555"},{"offset":0.315,"color":"rgba(85,85,85,0)"},{"offset":0.32,"color":"#555"},{"offset":0.325,"color":"rgba(85,85,85,0)"},{"offset":0.33,"color":"#555"},{"offset":0.335,"color":"rgba(85,85,85,0)"},{"offset":0.34,"color":"#555"},{"offset":0.345,"color":"rgba(85,85,85,0)"},
{"offset":0.35,"color":"#555"},{"offset":0.355,"color":"rgba(85,85,85,0)"},{"offset":0.36,"color":"#555"},{"offset":0.365,"color":"rgba(85,85,85,0)"},{"offset":0.37,"color":"#555"},{"offset":0.375,"color":"rgba(85,85,85,0)"},{"offset":0.38,"color":"#555"},{"offset":0.385,"color":"rgba(85,85,85,0)"},{"offset":0.39,"color":"#555"},{"offset":0.395,"color":"rgba(85,85,85,0)"},
{"offset":0.4,"color":"#555"},{"offset":0.405,"color":"rgba(85,85,85,0)"},{"offset":0.41,"color":"#555"},{"offset":0.415,"color":"rgba(85,85,85,0)"},{"offset":0.42,"color":"#555"},{"offset":0.425,"color":"rgba(85,85,85,0)"},{"offset":0.43,"color":"#555"},{"offset":0.435,"color":"rgba(85,85,85,0)"},{"offset":0.44,"color":"#555"},{"offset":0.445,"color":"rgba(85,85,85,0)"},
{"offset":0.45,"color":"#555"},{"offset":0.455,"color":"rgba(85,85,85,0)"},{"offset":0.46,"color":"#555"},{"offset":0.465,"color":"rgba(85,85,85,0)"},{"offset":0.47,"color":"#555"},{"offset":0.475,"color":"rgba(85,85,85,0)"},{"offset":0.48,"color":"#555"},{"offset":0.485,"color":"rgba(85,85,85,0)"},{"offset":0.49,"color":"#555"},{"offset":0.495,"color":"rgba(85,85,85,0)"},
{"offset":0.5,"color":"#555"},{"offset":0.505,"color":"rgba(85,85,85,0)"},{"offset":0.51,"color":"#555"},{"offset":0.515,"color":"rgba(85,85,85,0)"},{"offset":0.52,"color":"#555"},{"offset":0.525,"color":"rgba(85,85,85,0)"},{"offset":0.53,"color":"#555"},{"offset":0.535,"color":"rgba(85,85,85,0)"},{"offset":0.54,"color":"#555"},{"offset":0.545,"color":"rgba(85,85,85,0)"},
{"offset":0.55,"color":"#555"},{"offset":0.555,"color":"rgba(85,85,85,0)"},{"offset":0.56,"color":"#555"},{"offset":0.565,"color":"rgba(85,85,85,0)"},{"offset":0.57,"color":"#555"},{"offset":0.575,"color":"rgba(85,85,85,0)"},{"offset":0.58,"color":"#555"},{"offset":0.585,"color":"rgba(85,85,85,0)"},{"offset":0.59,"color":"#555"},{"offset":0.595,"color":"rgba(85,85,85,0)"},
{"offset":0.6,"color":"#555"},{"offset":0.605,"color":"rgba(85,85,85,0)"},{"offset":0.61,"color":"#555"},{"offset":0.615,"color":"rgba(85,85,85,0)"},{"offset":0.62,"color":"#555"},{"offset":0.625,"color":"rgba(85,85,85,0)"},{"offset":0.63,"color":"#555"},{"offset":0.635,"color":"rgba(85,85,85,0)"},{"offset":0.64,"color":"#555"},{"offset":0.645,"color":"rgba(85,85,85,0)"},
{"offset":0.65,"color":"#555"},{"offset":0.655,"color":"rgba(85,85,85,0)"},{"offset":0.66,"color":"#555"},{"offset":0.665,"color":"rgba(85,85,85,0)"},{"offset":0.67,"color":"#555"},{"offset":0.675,"color":"rgba(85,85,85,0)"},{"offset":0.68,"color":"#555"},{"offset":0.685,"color":"rgba(85,85,85,0)"},{"offset":0.69,"color":"#555"},{"offset":0.695,"color":"rgba(85,85,85,0)"},
{"offset":0.7,"color":"#555"},{"offset":0.705,"color":"rgba(85,85,85,0)"},{"offset":0.71,"color":"#555"},{"offset":0.715,"color":"rgba(85,85,85,0)"},{"offset":0.72,"color":"#555"},{"offset":0.725,"color":"rgba(85,85,85,0)"},{"offset":0.73,"color":"#555"},{"offset":0.735,"color":"rgba(85,85,85,0)"},{"offset":0.74,"color":"#555"},{"offset":0.745,"color":"rgba(85,85,85,0)"},
{"offset":0.75,"color":"#555"},{"offset":0.755,"color":"rgba(85,85,85,0)"},{"offset":0.76,"color":"#555"},{"offset":0.765,"color":"rgba(85,85,85,0)"},{"offset":0.77,"color":"#555"},{"offset":0.775,"color":"rgba(85,85,85,0)"},{"offset":0.78,"color":"#555"},{"offset":0.785,"color":"rgba(85,85,85,0)"},{"offset":0.79,"color":"#555"},{"offset":0.795,"color":"rgba(85,85,85,0)"},
{"offset":0.8,"color":"#555"},{"offset":0.805,"color":"rgba(85,85,85,0)"},{"offset":0.81,"color":"#555"},{"offset":0.815,"color":"rgba(85,85,85,0)"},{"offset":0.82,"color":"#555"},{"offset":0.825,"color":"rgba(85,85,85,0)"},{"offset":0.83,"color":"#555"},{"offset":0.835,"color":"rgba(85,85,85,0)"},{"offset":0.84,"color":"#555"},{"offset":0.845,"color":"rgba(85,85,85,0)"},
{"offset":0.85,"color":"#555"},{"offset":0.855,"color":"rgba(85,85,85,0)"},{"offset":0.86,"color":"#555"},{"offset":0.865,"color":"rgba(85,85,85,0)"},{"offset":0.87,"color":"#555"},{"offset":0.875,"color":"rgba(85,85,85,0)"},{"offset":0.88,"color":"#555"},{"offset":0.885,"color":"rgba(85,85,85,0)"},{"offset":0.89,"color":"#555"},{"offset":0.895,"color":"rgba(85,85,85,0)"},
{"offset":0.9,"color":"#555"},{"offset":0.905,"color":"rgba(85,85,85,0)"},{"offset":0.91,"color":"#555"},{"offset":0.915,"color":"rgba(85,85,85,0)"},{"offset":0.92,"color":"#555"},{"offset":0.925,"color":"rgba(85,85,85,0)"},{"offset":0.93,"color":"#555"},{"offset":0.935,"color":"rgba(85,85,85,0)"},{"offset":0.94,"color":"#555"},{"offset":0.945,"color":"rgba(85,85,85,0)"},
{"offset":0.95,"color":"#555"},{"offset":0.955,"color":"rgba(85,85,85,0)"},{"offset":0.96,"color":"#555"},{"offset":0.965,"color":"rgba(85,85,85,0)"},{"offset":0.97,"color":"#555"},{"offset":0.975,"color":"rgba(85,85,85,0)"},{"offset":0.98,"color":"#555"},{"offset":0.985,"color":"rgba(85,85,85,0)"},{"offset":0.99,"color":"#555"},{"offset":0.995,"color":"rgba(85,85,85,0)"},
{"offset":1,"color":"#555"}
      ]}},
      "encoding": {
       "x": {"field": "x", "type": "quantitative", "axis": null},
       "y": {"field": "mlo", "type": "quantitative", "axis": null},
       "y2": {"field": "mhi"}
      }
     },
     {
      "data": {"name": "ss_e"},
      "mark": {"type": "line", "interpolate": "step-after", "color": "#000033", "strokeWidth": 2.5},
      "encoding": {
       "x": {"field": "x", "type": "quantitative", "axis": {"orient": "bottom", "values": [0,10,20,30,40,50,60,70,80,90,100,110,120,130,140,150,160,170,180,190,200,210,220,230,240,250,260,270,280,290,300,310,320,330,340,350,360,370,380,390,400,410,420,430,440,450,460,470,480,490,500], "labels": false, "domain": false, "tickSize": -5, "title": null}},
       "y": {"field": "tot", "type": "quantitative", "axis": {"orient": "left", "values": [0,20,40,60,80,100,120,140,160,180,200,220,240,260,280,300,320,340,360,380,400,420,440,460,480,500,520,540,560,580,600,620], "labels": false, "domain": false, "tickSize": -7, "title": null}},
       "stroke": {"datum": "MC Stat.", "type": "nominal", "scale": {"domain": ["MC Stat."], "range": ["#000033"]}, "legend": {"title": null, "orient": "none", "legendX": 358, "legendY": 86.5, "symbolType": "stroke"}}
      }
     },
     {
      "data": {"name": "ss_b"},
      "mark": {"type": "rule", "color": "black", "strokeWidth": 2},
      "encoding": {
       "x": {"field": "c", "type": "quantitative", "axis": {"orient": "top", "values": [0,50,100,150,200,250,300,350,400,450,500], "labels": false, "tickSize": -10, "title": null}},
       "y": {"field": "dlo", "type": "quantitative", "axis": {"orient": "right", "values": [0,100,200,300,400,500,600], "labels": false, "tickSize": -14, "title": null}},
       "y2": {"field": "dhi"}
      }
     },
     {
      "data": {"name": "ss_b"},
      "mark": {"type": "circle", "color": "black", "opacity": 1},
      "encoding": {
       "x": {"field": "c", "type": "quantitative", "axis": {"orient": "top", "values": [0,10,20,30,40,50,60,70,80,90,100,110,120,130,140,150,160,170,180,190,200,210,220,230,240,250,260,270,280,290,300,310,320,330,340,350,360,370,380,390,400,410,420,430,440,450,460,470,480,490,500], "labels": false, "domain": false, "tickSize": -5, "title": null}},
       "y": {"field": "d", "type": "quantitative", "axis": {"orient": "right", "values": [0,20,40,60,80,100,120,140,160,180,200,220,240,260,280,300,320,340,360,380,400,420,440,460,480,500,520,540,560,580,600,620], "labels": false, "domain": false, "tickSize": -7, "title": null}},
       "size": {"datum": "Data", "type": "nominal", "scale": {"type": "point", "domain": ["Data"], "range": [55, 55]}, "legend": {"title": null, "orient": "none", "legendX": 255.3, "legendY": 13.5, "labelOffset": 10.5, "symbolType": "circle"}}
      }
     },
     {
      "data": {"values": [{}]},
      "mark": {"type": "text", "text": "ATLAS", "fontSize": 19.5, "fontStyle": "italic", "fontWeight": "bold", "align": "left", "baseline": "alphabetic", "color": "black"},
      "encoding": {"x": {"datum": 20, "type": "quantitative", "axis": null}, "y": {"datum": 584.5, "type": "quantitative", "axis": null}}
     },
     {
      "data": {"values": [{}]},
      "mark": {"type": "text", "text": "Work in progress", "fontSize": 19.5, "align": "left", "baseline": "alphabetic", "color": "black"},
      "encoding": {"x": {"datum": 93, "type": "quantitative", "axis": null}, "y": {"datum": 584.5, "type": "quantitative", "axis": null}}
     },
     {
      "data": {"values": [{}]},
      "mark": {"type": "text", "text": "\u221As = 13 TeV, 79.8 fb\u207B\u00B9", "fontSize": 19.5, "align": "left", "baseline": "alphabetic", "color": "black"},
      "encoding": {"x": {"datum": 20, "type": "quantitative", "axis": null}, "y": {"datum": 535.5, "type": "quantitative", "axis": null}}
     },
     {
      "data": {"values": [{}]},
      "mark": {"type": "text", "text": "Same Sign", "fontSize": 19.5, "align": "left", "baseline": "alphabetic", "color": "black"},
      "encoding": {"x": {"datum": 20, "type": "quantitative", "axis": null}, "y": {"datum": 488.3, "type": "quantitative", "axis": null}}
     }
    ]
   },
   {
    "width": 477, "height": 109,
    "resolve": {"axis": {"x": "independent", "y": "independent"}},
    "layer": [
     {
      "data": {"name": "ss_e"},
      "mark": {"type": "area", "interpolate": "step-after", "clip": true, "opacity": 1, "fill": {"gradient": "linear", "x1": 0, "y1": 0, "x2": 1.114, "y2": 0.15, "stops": [
{"offset":0,"color":"#555"},{"offset":0.005,"color":"rgba(85,85,85,0)"},{"offset":0.01,"color":"#555"},{"offset":0.015,"color":"rgba(85,85,85,0)"},{"offset":0.02,"color":"#555"},{"offset":0.025,"color":"rgba(85,85,85,0)"},{"offset":0.03,"color":"#555"},{"offset":0.035,"color":"rgba(85,85,85,0)"},{"offset":0.04,"color":"#555"},{"offset":0.045,"color":"rgba(85,85,85,0)"},
{"offset":0.05,"color":"#555"},{"offset":0.055,"color":"rgba(85,85,85,0)"},{"offset":0.06,"color":"#555"},{"offset":0.065,"color":"rgba(85,85,85,0)"},{"offset":0.07,"color":"#555"},{"offset":0.075,"color":"rgba(85,85,85,0)"},{"offset":0.08,"color":"#555"},{"offset":0.085,"color":"rgba(85,85,85,0)"},{"offset":0.09,"color":"#555"},{"offset":0.095,"color":"rgba(85,85,85,0)"},
{"offset":0.1,"color":"#555"},{"offset":0.105,"color":"rgba(85,85,85,0)"},{"offset":0.11,"color":"#555"},{"offset":0.115,"color":"rgba(85,85,85,0)"},{"offset":0.12,"color":"#555"},{"offset":0.125,"color":"rgba(85,85,85,0)"},{"offset":0.13,"color":"#555"},{"offset":0.135,"color":"rgba(85,85,85,0)"},{"offset":0.14,"color":"#555"},{"offset":0.145,"color":"rgba(85,85,85,0)"},
{"offset":0.15,"color":"#555"},{"offset":0.155,"color":"rgba(85,85,85,0)"},{"offset":0.16,"color":"#555"},{"offset":0.165,"color":"rgba(85,85,85,0)"},{"offset":0.17,"color":"#555"},{"offset":0.175,"color":"rgba(85,85,85,0)"},{"offset":0.18,"color":"#555"},{"offset":0.185,"color":"rgba(85,85,85,0)"},{"offset":0.19,"color":"#555"},{"offset":0.195,"color":"rgba(85,85,85,0)"},
{"offset":0.2,"color":"#555"},{"offset":0.205,"color":"rgba(85,85,85,0)"},{"offset":0.21,"color":"#555"},{"offset":0.215,"color":"rgba(85,85,85,0)"},{"offset":0.22,"color":"#555"},{"offset":0.225,"color":"rgba(85,85,85,0)"},{"offset":0.23,"color":"#555"},{"offset":0.235,"color":"rgba(85,85,85,0)"},{"offset":0.24,"color":"#555"},{"offset":0.245,"color":"rgba(85,85,85,0)"},
{"offset":0.25,"color":"#555"},{"offset":0.255,"color":"rgba(85,85,85,0)"},{"offset":0.26,"color":"#555"},{"offset":0.265,"color":"rgba(85,85,85,0)"},{"offset":0.27,"color":"#555"},{"offset":0.275,"color":"rgba(85,85,85,0)"},{"offset":0.28,"color":"#555"},{"offset":0.285,"color":"rgba(85,85,85,0)"},{"offset":0.29,"color":"#555"},{"offset":0.295,"color":"rgba(85,85,85,0)"},
{"offset":0.3,"color":"#555"},{"offset":0.305,"color":"rgba(85,85,85,0)"},{"offset":0.31,"color":"#555"},{"offset":0.315,"color":"rgba(85,85,85,0)"},{"offset":0.32,"color":"#555"},{"offset":0.325,"color":"rgba(85,85,85,0)"},{"offset":0.33,"color":"#555"},{"offset":0.335,"color":"rgba(85,85,85,0)"},{"offset":0.34,"color":"#555"},{"offset":0.345,"color":"rgba(85,85,85,0)"},
{"offset":0.35,"color":"#555"},{"offset":0.355,"color":"rgba(85,85,85,0)"},{"offset":0.36,"color":"#555"},{"offset":0.365,"color":"rgba(85,85,85,0)"},{"offset":0.37,"color":"#555"},{"offset":0.375,"color":"rgba(85,85,85,0)"},{"offset":0.38,"color":"#555"},{"offset":0.385,"color":"rgba(85,85,85,0)"},{"offset":0.39,"color":"#555"},{"offset":0.395,"color":"rgba(85,85,85,0)"},
{"offset":0.4,"color":"#555"},{"offset":0.405,"color":"rgba(85,85,85,0)"},{"offset":0.41,"color":"#555"},{"offset":0.415,"color":"rgba(85,85,85,0)"},{"offset":0.42,"color":"#555"},{"offset":0.425,"color":"rgba(85,85,85,0)"},{"offset":0.43,"color":"#555"},{"offset":0.435,"color":"rgba(85,85,85,0)"},{"offset":0.44,"color":"#555"},{"offset":0.445,"color":"rgba(85,85,85,0)"},
{"offset":0.45,"color":"#555"},{"offset":0.455,"color":"rgba(85,85,85,0)"},{"offset":0.46,"color":"#555"},{"offset":0.465,"color":"rgba(85,85,85,0)"},{"offset":0.47,"color":"#555"},{"offset":0.475,"color":"rgba(85,85,85,0)"},{"offset":0.48,"color":"#555"},{"offset":0.485,"color":"rgba(85,85,85,0)"},{"offset":0.49,"color":"#555"},{"offset":0.495,"color":"rgba(85,85,85,0)"},
{"offset":0.5,"color":"#555"},{"offset":0.505,"color":"rgba(85,85,85,0)"},{"offset":0.51,"color":"#555"},{"offset":0.515,"color":"rgba(85,85,85,0)"},{"offset":0.52,"color":"#555"},{"offset":0.525,"color":"rgba(85,85,85,0)"},{"offset":0.53,"color":"#555"},{"offset":0.535,"color":"rgba(85,85,85,0)"},{"offset":0.54,"color":"#555"},{"offset":0.545,"color":"rgba(85,85,85,0)"},
{"offset":0.55,"color":"#555"},{"offset":0.555,"color":"rgba(85,85,85,0)"},{"offset":0.56,"color":"#555"},{"offset":0.565,"color":"rgba(85,85,85,0)"},{"offset":0.57,"color":"#555"},{"offset":0.575,"color":"rgba(85,85,85,0)"},{"offset":0.58,"color":"#555"},{"offset":0.585,"color":"rgba(85,85,85,0)"},{"offset":0.59,"color":"#555"},{"offset":0.595,"color":"rgba(85,85,85,0)"},
{"offset":0.6,"color":"#555"},{"offset":0.605,"color":"rgba(85,85,85,0)"},{"offset":0.61,"color":"#555"},{"offset":0.615,"color":"rgba(85,85,85,0)"},{"offset":0.62,"color":"#555"},{"offset":0.625,"color":"rgba(85,85,85,0)"},{"offset":0.63,"color":"#555"},{"offset":0.635,"color":"rgba(85,85,85,0)"},{"offset":0.64,"color":"#555"},{"offset":0.645,"color":"rgba(85,85,85,0)"},
{"offset":0.65,"color":"#555"},{"offset":0.655,"color":"rgba(85,85,85,0)"},{"offset":0.66,"color":"#555"},{"offset":0.665,"color":"rgba(85,85,85,0)"},{"offset":0.67,"color":"#555"},{"offset":0.675,"color":"rgba(85,85,85,0)"},{"offset":0.68,"color":"#555"},{"offset":0.685,"color":"rgba(85,85,85,0)"},{"offset":0.69,"color":"#555"},{"offset":0.695,"color":"rgba(85,85,85,0)"},
{"offset":0.7,"color":"#555"},{"offset":0.705,"color":"rgba(85,85,85,0)"},{"offset":0.71,"color":"#555"},{"offset":0.715,"color":"rgba(85,85,85,0)"},{"offset":0.72,"color":"#555"},{"offset":0.725,"color":"rgba(85,85,85,0)"},{"offset":0.73,"color":"#555"},{"offset":0.735,"color":"rgba(85,85,85,0)"},{"offset":0.74,"color":"#555"},{"offset":0.745,"color":"rgba(85,85,85,0)"},
{"offset":0.75,"color":"#555"},{"offset":0.755,"color":"rgba(85,85,85,0)"},{"offset":0.76,"color":"#555"},{"offset":0.765,"color":"rgba(85,85,85,0)"},{"offset":0.77,"color":"#555"},{"offset":0.775,"color":"rgba(85,85,85,0)"},{"offset":0.78,"color":"#555"},{"offset":0.785,"color":"rgba(85,85,85,0)"},{"offset":0.79,"color":"#555"},{"offset":0.795,"color":"rgba(85,85,85,0)"},
{"offset":0.8,"color":"#555"},{"offset":0.805,"color":"rgba(85,85,85,0)"},{"offset":0.81,"color":"#555"},{"offset":0.815,"color":"rgba(85,85,85,0)"},{"offset":0.82,"color":"#555"},{"offset":0.825,"color":"rgba(85,85,85,0)"},{"offset":0.83,"color":"#555"},{"offset":0.835,"color":"rgba(85,85,85,0)"},{"offset":0.84,"color":"#555"},{"offset":0.845,"color":"rgba(85,85,85,0)"},
{"offset":0.85,"color":"#555"},{"offset":0.855,"color":"rgba(85,85,85,0)"},{"offset":0.86,"color":"#555"},{"offset":0.865,"color":"rgba(85,85,85,0)"},{"offset":0.87,"color":"#555"},{"offset":0.875,"color":"rgba(85,85,85,0)"},{"offset":0.88,"color":"#555"},{"offset":0.885,"color":"rgba(85,85,85,0)"},{"offset":0.89,"color":"#555"},{"offset":0.895,"color":"rgba(85,85,85,0)"},
{"offset":0.9,"color":"#555"},{"offset":0.905,"color":"rgba(85,85,85,0)"},{"offset":0.91,"color":"#555"},{"offset":0.915,"color":"rgba(85,85,85,0)"},{"offset":0.92,"color":"#555"},{"offset":0.925,"color":"rgba(85,85,85,0)"},{"offset":0.93,"color":"#555"},{"offset":0.935,"color":"rgba(85,85,85,0)"},{"offset":0.94,"color":"#555"},{"offset":0.945,"color":"rgba(85,85,85,0)"},
{"offset":0.95,"color":"#555"},{"offset":0.955,"color":"rgba(85,85,85,0)"},{"offset":0.96,"color":"#555"},{"offset":0.965,"color":"rgba(85,85,85,0)"},{"offset":0.97,"color":"#555"},{"offset":0.975,"color":"rgba(85,85,85,0)"},{"offset":0.98,"color":"#555"},{"offset":0.985,"color":"rgba(85,85,85,0)"},{"offset":0.99,"color":"#555"},{"offset":0.995,"color":"rgba(85,85,85,0)"},
{"offset":1,"color":"#555"}
      ]}},
      "encoding": {
       "x": {"field": "x", "type": "quantitative", "scale": {"domain": [0, 500], "nice": false}, "axis": {"orient": "bottom", "values": [0,50,100,150,200,250,300,350,400,450,500], "labelFontSize": 18, "labelPadding": 11.5, "tickSize": -8, "title": "m\u2097\u2097 [GeV]", "titleFontSize": 22, "titleAnchor": "end", "titleAlign": "right", "titleBaseline": "alphabetic", "titleX": 477, "titleY": 44}},
       "y": {"field": "blo", "type": "quantitative", "scale": {"domain": [0.5, 1.5], "nice": false, "zero": false}, "axis": {"orient": "left", "values": [0.6,0.8,1,1.2,1.4], "format": ".1f", "labelFontSize": 17.5, "labelPadding": 17, "tickSize": -12, "grid": true, "gridDash": [1.5,2], "gridColor": "black", "gridWidth": 1, "title": "Data / Pred", "titleFontSize": 22.5, "titleAngle": 270, "titleBaseline": "alphabetic", "titleX": -46}},
       "y2": {"field": "bhi"}
      }
     },
     {
      "data": {"name": "ss_b"},
      "mark": {"type": "rule", "color": "black", "strokeWidth": 1.5, "clip": true},
      "encoding": {
       "x": {"field": "c", "type": "quantitative", "axis": {"orient": "bottom", "values": [0,10,20,30,40,50,60,70,80,90,100,110,120,130,140,150,160,170,180,190,200,210,220,230,240,250,260,270,280,290,300,310,320,330,340,350,360,370,380,390,400,410,420,430,440,450,460,470,480,490,500], "labels": false, "domain": false, "tickSize": -4, "title": null}},
       "y": {"field": "rlo", "type": "quantitative", "axis": {"orient": "left", "values": [0.5,0.6,0.7,0.8,0.9,1,1.1,1.2,1.3,1.4,1.5], "labels": false, "domain": false, "tickSize": -6, "title": null}},
       "y2": {"field": "rhi"}
      }
     },
     {
      "data": {"name": "ss_b"},
      "mark": {"type": "circle", "color": "black", "size": 55, "opacity": 1, "clip": true},
      "encoding": {
       "x": {"field": "c", "type": "quantitative", "axis": {"orient": "top", "values": [0,50,100,150,200,250,300,350,400,450,500], "labels": false, "tickSize": -8, "title": null}},
       "y": {"field": "r", "type": "quantitative", "axis": {"orient": "right", "values": [0.6,0.8,1,1.2,1.4], "labels": false, "tickSize": -12, "title": null}}
      }
     },
     {
      "data": {"values": [{}]},
      "mark": {"type": "rule", "color": "black", "strokeWidth": 1.3},
      "encoding": {
       "x": {"datum": 0, "type": "quantitative", "axis": {"orient": "top", "values": [0,10,20,30,40,50,60,70,80,90,100,110,120,130,140,150,160,170,180,190,200,210,220,230,240,250,260,270,280,290,300,310,320,330,340,350,360,370,380,390,400,410,420,430,440,450,460,470,480,490,500], "labels": false, "domain": false, "tickSize": -4, "title": null}},
       "x2": {"datum": 500},
       "y": {"datum": 1, "type": "quantitative", "axis": {"orient": "right", "values": [0.5,0.6,0.7,0.8,0.9,1,1.1,1.2,1.3,1.4,1.5], "labels": false, "domain": false, "tickSize": -6, "title": null}}
      }
     }
    ]
   }
  ]
 }
]
}
